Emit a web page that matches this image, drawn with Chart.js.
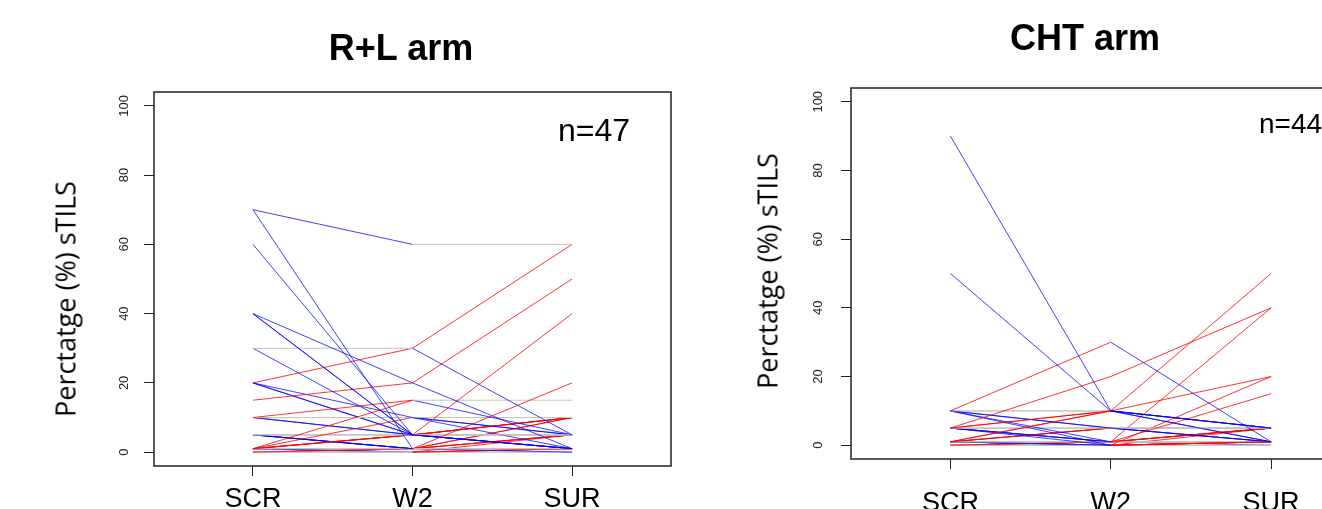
<!DOCTYPE html>
<html>
<head>
<meta charset="utf-8">
<script src="https://cdn.jsdelivr.net/npm/chart.js@4.4.0/dist/chart.umd.min.js"></script>
<style>
html, body { margin: 0; padding: 0; width: 1322px; height: 509px; overflow: hidden; background: #fff; }
#page { position: relative; width: 1322px; height: 509px; overflow: hidden; }
canvas { position: absolute; top: 0; }
.lbl { position: absolute; white-space: nowrap; line-height: 1; color: #000;
       font-family: 'Liberation Sans', Arial, sans-serif; transform: translate(-50%, -50%); }
.title { font-size: 36px; font-weight: bold; }
.ytitle { font-family: 'Open Sans', sans-serif; font-size: 27px; transform: translate(-50%, -50%) rotate(-90deg); }
.count { transform: translate(0, -50%); }
</style>
</head>
<body>
<div id="page">
  <canvas id="rlChart" width="700" height="509" style="left:0"></canvas>
  <canvas id="chtChart" width="700" height="509" style="left:700px"></canvas>

  <div class="lbl title" style="left:401px; top:48px">R+L arm</div>
  <div class="lbl title" style="left:1085px; top:38px">CHT arm</div>
  <div class="lbl ytitle" style="left:65px; top:299px">Perctatge (%) sTILS</div>
  <div class="lbl ytitle" style="left:767px; top:271px">Perctatge (%) sTILS</div>
  <div class="lbl count" style="left:558px; top:130px; font-size:32px">n=47</div>
  <div class="lbl count" style="left:1259px; top:124px; font-size:28px">n=44</div>
</div>

<script>
// Time points and y ticks
const timepoints = ['SCR', 'W2', 'SUR'];
const yTicks = [0, 20, 40, 60, 80, 100];

// R+L arm, one entry per patient (sTILs %)
const rlScr = [70, 70, 60, 40, 40, 40, 30, 20, 30, 15, 10, 1, 20, 10, 1, 20, 10, 5, 5, 1, 1, 5, 5, 1, 0, 1, 0, 0, 0, 1, 5, 1, 1, 10, 1, 0, 5, 1, 0, 1, 5, 20, 1, 0, 1, 10, 5];
const rlW2  = [60, 1, 5, 20, 5, 5, 30, 30, 5, 20, 15, 15, 10, 10, 10, 5, 5, 5, 5, 5, 5, 1, 1, 1, 1, 1, 0, 0, 0, 0, 1, 1, 5, 5, 1, 1, 5, 0, 0, 1, 1, 5, 5, 1, 0, 10, 5];
const rlSur = [60, 20, 1, 1, 40, 1, 60, 5, 5, 50, 15, 5, 1, 10, 5, 10, 1, 5, 10, 10, 5, 1, 10, 1, 5, 0, 1, 5, 0, 1, 5, 5, 1, 5, 1, 1, 1, 0, 1, 10, 1, 5, 10, 1, 1, 5, 5];

// CHT arm
const chtScr = [90, 50, 10, 5, 1, 5, 10, 10, 10, 10, 5, 5, 5, 1, 1, 1, 1, 0, 0, 1, 1, 5, 1, 0, 1, 0, 5, 1, 10, 1, 0, 1, 5, 0, 1, 1, 10, 5, 1, 0, 1, 5, 1, 0];
const chtW2  = [10, 10, 30, 20, 10, 10, 10, 5, 1, 0, 5, 1, 0, 5, 10, 1, 0, 1, 0, 1, 5, 5, 1, 0, 0, 1, 1, 1, 5, 5, 0, 1, 5, 1, 0, 1, 10, 10, 1, 0, 0, 1, 1, 1];
const chtSur = [5, 1, 1, 40, 50, 20, 5, 1, 15, 1, 5, 5, 1, 5, 5, 1, 20, 40, 1, 5, 1, 1, 1, 0, 1, 1, 1, 5, 5, 5, 1, 1, 5, 5, 0, 0, 1, 5, 1, 5, 1, 1, 1, 1];

const rise = 'rgba(255, 0, 0, 0.8)';
const fall = 'rgba(0, 0, 255, 0.75)';
const flat = '#c4c4c4';
const axisColour = '#222';

// red when going up, blue when going down, grey when unchanged
function segmentColour(ctx) {
    const a = ctx.p0.parsed.y, b = ctx.p1.parsed.y;
    return b > a ? rise : (b < a ? fall : flat);
}

// R style box round the plot region
const plotBox = {
    id: 'plotBox',
    afterDatasetsDraw(chart) {
        const a = chart.chartArea;
        const ctx = chart.ctx;
        ctx.save();
        ctx.strokeStyle = axisColour;
        ctx.lineWidth = 1.5;
        ctx.strokeRect(a.left, a.top, a.right - a.left, a.bottom - a.top);
        ctx.restore();
    }
};

function buildChart(canvasId, scr, w2, sur, geom) {
    const datasets = scr.map((v, i) => ({
        data: [v, w2[i], sur[i]].map((y, j) => ({ x: j + 1, y: y })),
        borderWidth: 1,
        borderColor: flat,
        pointRadius: 0,
        segment: { borderColor: segmentColour }
    }));

    const ctx = document.getElementById(canvasId).getContext('2d');
    return new Chart(ctx, {
        type: 'line',
        data: { datasets: datasets },
        plugins: [plotBox],
        options: {
            responsive: false,
            animation: false,
            devicePixelRatio: 1,
            layout: { padding: { top: geom.top, right: geom.right, bottom: 0, left: 0 } },
            plugins: {
                legend: { display: false },
                tooltip: { enabled: false }
            },
            scales: {
                x: {
                    type: 'linear',
                    min: 0.38,
                    max: 3.62,
                    afterBuildTicks: s => { s.ticks = timepoints.map((t, i) => ({ value: i + 1 })); },
                    afterFit: s => { s.height = geom.xHeight; },
                    border: { display: false },
                    grid: { drawOnChartArea: false, drawTicks: true, tickLength: 10, color: axisColour, lineWidth: 1 },
                    ticks: {
                        autoSkip: false,
                        maxRotation: 0,
                        padding: geom.xPad,
                        color: '#000',
                        font: { family: 'Liberation Sans', size: 27 },
                        callback: v => timepoints[v - 1]
                    }
                },
                y: {
                    type: 'linear',
                    min: -4,
                    max: 104,
                    afterBuildTicks: s => { s.ticks = yTicks.map(v => ({ value: v })); },
                    afterFit: s => { s.width = geom.yWidth; },
                    border: { display: false },
                    grid: { drawOnChartArea: false, drawTicks: true, tickLength: 10, color: axisColour, lineWidth: 1 },
                    ticks: {
                        minRotation: 90,
                        maxRotation: 90,
                        crossAlign: 'center',
                        padding: geom.yPad,
                        color: '#222',
                        font: { family: 'Liberation Sans', size: 13 }
                    }
                }
            }
        }
    });
}

document.addEventListener('DOMContentLoaded', function() {
    buildChart('rlChart', rlScr, rlW2, rlSur, { top: 92, right: 29, xHeight: 43, yWidth: 154, xPad: 7, yPad: 9 });
    buildChart('chtChart', chtScr, chtW2, chtSur, { top: 88, right: 29.5, xHeight: 50, yWidth: 151, xPad: 18, yPad: 12 });
});
</script>
</body>
</html>
